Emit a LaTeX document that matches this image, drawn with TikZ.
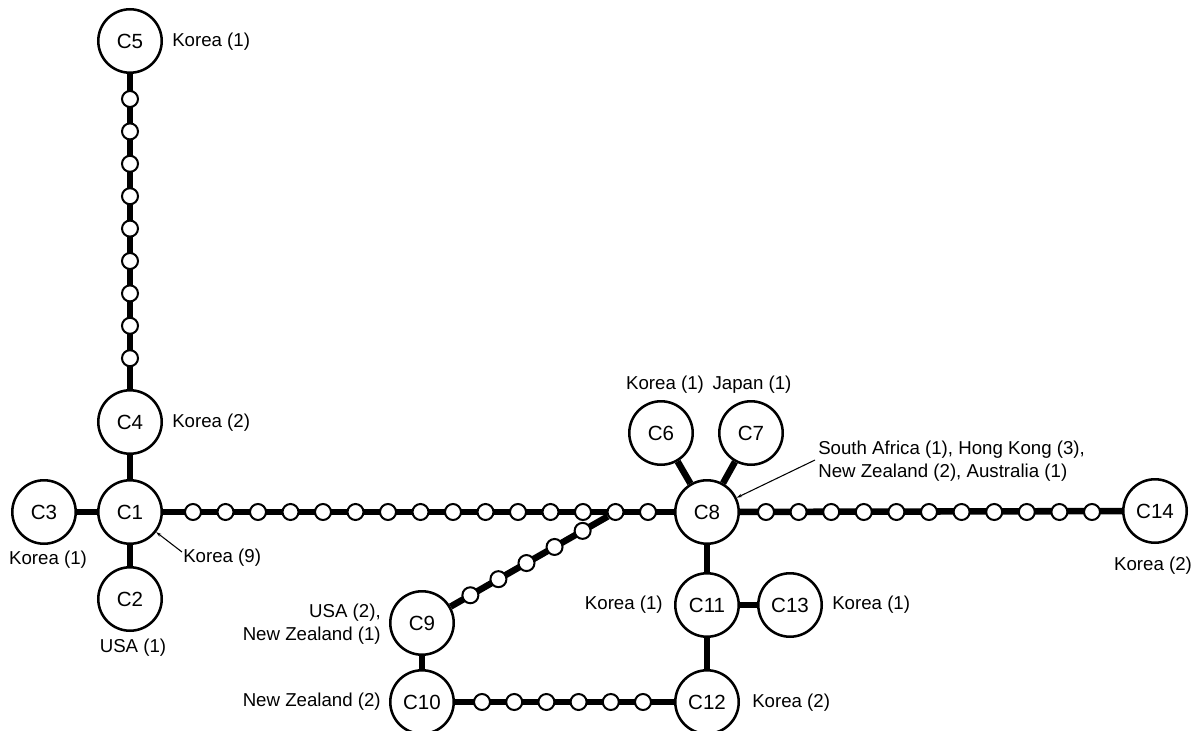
\documentclass[tikz,border=0pt]{standalone}
\usepackage{fontspec}
\setmainfont{Liberation Sans}
\usetikzlibrary{calc,arrows.meta,backgrounds}
\begin{document}
\begin{tikzpicture}[x=0.75pt,y=-0.75pt,
  hap/.style={circle,draw,line width=1.9pt,fill=white,minimum size=47.6pt,inner sep=0pt,font=\fontsize{15.4}{18}\selectfont},
  dot/.style={circle,draw,line width=1.5pt,fill=white,minimum size=12pt,inner sep=0pt},
  edge/.style={line width=4.9pt},
  lbl/.style={font=\fontsize{14}{17}\selectfont,inner sep=0pt},
  leader/.style={line width=0.8pt,-{Stealth[length=4pt,width=2.5pt]}}]
\useasboundingbox (0,0) rectangle (1199,731);

% haplotype nodes
\node[hap] (C5) at (130,41) {C5};
\node[hap] (C4) at (130,422) {C4};
\node[hap] (C1) at (130,512) {C1};
\node[hap] (C3) at (44,512) {C3};
\node[hap] (C2) at (130,599) {C2};
\node[hap] (C8) at (707,512) {C8};
\node[hap] (C6) at (661,433) {C6};
\node[hap] (C7) at (751,433) {C7};
\node[hap] (C14) at (1155,511) {C14};
\node[hap] (C11) at (707,605) {C11};
\node[hap] (C13) at (790,605) {C13};
\node[hap] (C12) at (707,702) {C12};
\node[hap] (C9) at (422,623) {C9};
\node[hap] (C10) at (422,702) {C10};

% missing-step dots
\foreach \k in {0,...,8} \node[dot] (v\k) at (130,{99+32.4*\k}) {};
\foreach \k in {0,...,14} \node[dot] (h\k) at ({193+32.5*\k},512) {};
\foreach \k in {0,...,10} \node[dot] (r\k) at ({766+32.6*\k},512) {};
\foreach \k in {0,...,5} \node[dot] (b\k) at ({482+32.2*\k},702) {};
\foreach \t [count=\i] in {0.25,0.395,0.54,0.685,0.83}
  \node[dot] (g\i) at ($(C9)!\t!(h13)$) {};

% connectors
\begin{pgfonlayer}{background}
\draw[edge] (C5) -- (C4);
\draw[edge] (C4) -- (C1);
\draw[edge] (C3) -- (C1);
\draw[edge] (C2) -- (C1);
\draw[edge] (C1) -- (C8);
\draw[edge] (C6) -- (C8);
\draw[edge] (C7) -- (C8);
\draw[edge] (C8) -- (C14);
\draw[edge] (C8) -- (C11);
\draw[edge] (C11) -- (C13);
\draw[edge] (C11) -- (C12);
\draw[edge] (C9) -- (h13);
\draw[edge] (C9) -- (C10);
\draw[edge] (C10) -- (C12);
\end{pgfonlayer}

% labels
\node[lbl,anchor=west] (L5) at (172,42) {Korea (1)};
\node[lbl,anchor=west] (L4) at (172,423) {Korea (2)};
\node[lbl] (L3) at (48,560) {Korea (1)};
\node[lbl,anchor=west] (L1) at (183,558) {Korea (9)};
\node[lbl] (L2) at (133,648) {USA (1)};
\node[lbl] (L6) at (665,385) {Korea (1)};
\node[lbl] (L7) at (752,385) {Japan (1)};
\node[lbl,anchor=west,align=left] (L8) at (818,461) {South Africa (1), Hong Kong (3),\\New Zealand (2), Australia (1)};
\node[lbl,anchor=east,align=right] (L9) at (381,624) {USA (2),\\New Zealand (1)};
\node[lbl,anchor=east] (L10) at (381,702) {New Zealand (2)};
\node[lbl,anchor=east] (L11) at (663,605) {Korea (1)};
\node[lbl,anchor=west] (L13) at (832,605) {Korea (1)};
\node[lbl,anchor=west] (L12) at (752,703) {Korea (2)};
\node[lbl] (L14) at (1153,566) {Korea (2)};

% leader lines
\coordinate (p1) at (182,552);
\coordinate (p8) at (815,460);
\draw[leader] (p1) -- (C1);
\draw[leader] (p8) -- (C8);
\end{tikzpicture}
\end{document}
